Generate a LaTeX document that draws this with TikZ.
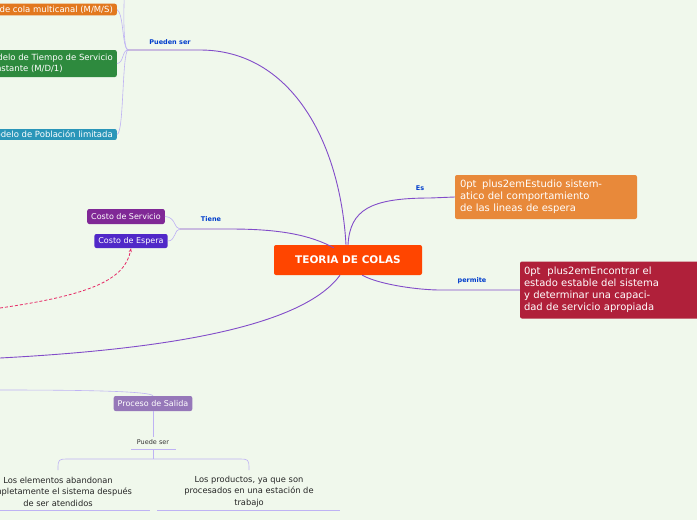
\documentclass[tikz,border=0pt]{standalone}
\usepackage{fontspec}
\setmainfont{DejaVu Sans}
\usetikzlibrary{arrows.meta}
\begin{document}
\begin{tikzpicture}[x=1pt,y=-1pt,
  box/.style={rounded corners=2pt,text=white,font=\fontsize{8.5}{10.5}\selectfont,inner xsep=4pt,inner ysep=2pt,align=center},
  lab/.style={text=blue!70!cyan!80!black,font=\bfseries\fontsize{6.5}{7.5}\selectfont},
  conn/.style={draw=violet!60!blue!70,line width=0.9pt},
  thin/.style={draw=violet!30!blue!30,line width=0.6pt}]
\definecolor{bg}{HTML}{F0F8EC}
\fill[bg] (0,0) rectangle (697,520);
\useasboundingbox (0,0) rectangle (697,520);
\begin{scope}
\clip (0,0) rectangle (697,520);
% central
\node[box,fill={rgb,255:red,255;green,69;blue,0},font=\bfseries\fontsize{10.5}{12}\selectfont,minimum width=148pt,minimum height=30pt] (c) at (348,260) {TEORIA DE COLAS};
\node[box,fill={rgb,255:red,232;green,137;blue,58},font=\hyphenpenalty=10000\fontsize{9.5}{12}\selectfont,minimum width=182pt,minimum height=44pt,text width=172pt] (es) at (546,197) {Estudio sistematico del comportamiento de las lineas de espera};
\node[box,fill={rgb,255:red,176;green,32;blue,58},font=\hyphenpenalty=10000\fontsize{9.5}{12}\selectfont,minimum width=182pt,minimum height=57pt,text width=174pt] (en) at (611,290) {Encontrar el estado estable del sistema y determinar una capacidad de servicio apropiada};
\node[lab] (les) at (420,188) {Es};
\node[lab] (lper) at (472,281) {permite};
\coordinate (e1) at (430,198);
\draw[conn] (c.north) .. controls (350,210) and (370,198) .. (e1) -- (es.west);
\coordinate (p1) at (440,290);
\draw[conn] (c.south east) ++(-60,0) .. controls (380,285) and (420,290) .. (p1) -- (en.west);
% left top
\node[box,fill={rgb,255:red,226;green,120;blue,30},anchor=east] (mms) at (117,9.5) {Modelo de cola multicanal (M/M/S)};
\node[box,fill={rgb,255:red,46;green,138;blue,62},anchor=east,align=left,minimum height=27pt] (md1) at (117,63.5) {Modelo de Tiempo de Servicio\\Constante (M/D/1)};
\node[box,fill={rgb,255:red,42;green,150;blue,185},anchor=east] (mpl) at (117,134.5) {Modelo de Población limitada};
\coordinate (h1) at (128,50);
\coordinate (h2) at (200,50);
\node[lab] (lps) at (170,42) {Pueden ser};
\draw[conn] (c.north) ++(-2,0) .. controls (340,140) and (290,50) .. (h2) -- (h1);
\draw[thin] (h1) .. controls (122,50) and (124,-10) .. (125,-10);
\draw[thin] (h1) .. controls (122,48) and (124,14) .. (mms.east);
\draw[thin] (h1) .. controls (122,50) and (124,63) .. (md1.east);
\draw[thin] (h1) .. controls (122,52) and (124,134) .. (mpl.east);
% costs
\node[box,fill={rgb,255:red,128;green,40;blue,150},font=\fontsize{8}{9}\selectfont,minimum height=15pt] (cs) at (126,216.5) {Costo de Servicio};
\node[box,fill={rgb,255:red,80;green,40;blue,200},font=\fontsize{8}{9}\selectfont,minimum height=14pt] (ce) at (131,241) {Costo de Espera};
\node[lab] (lti) at (211,219) {Tiene};
\coordinate (t1) at (180,229);
\coordinate (t2) at (230,229);
\draw[conn] (c.north west) ++(60,3) .. controls (310,235) and (280,229) .. (t2) -- (t1);
\draw[thin] (t1) .. controls (174,229) and (176,217) .. (cs.east);
\draw[thin] (t1) .. controls (174,229) and (176,241) .. (ce.east);
\coordinate (d1) at (0,308);
\draw[densely dashed,draw={rgb,255:red,230;green,40;blue,100},line width=0.8pt,-{Stealth[length=4pt]}] (d1) .. controls (90,295) and (125,280) .. (ce.south);
\coordinate (b1) at (0,358);
\draw[conn] (c.south) ++(-8,0) .. controls (300,330) and (150,350) .. (b1);
% salida
\node[box,fill={rgb,255:red,150;green,120;blue,185},font=\fontsize{8}{9}\selectfont,minimum height=15pt] (ps) at (153,403.5) {Proceso de Salida};
\coordinate (s0) at (0,390);
\draw[thin] (s0) .. controls (80,390) and (150,391) .. (ps.north);
\node[font=\fontsize{6.5}{7.5}\selectfont,text=black!80] (pds) at (153,442) {Puede ser};
\coordinate (u1) at (131,449);
\coordinate (u2) at (176,449);
\draw[thin] (u1) -- (u2);
\draw[thin] (ps.south) -- (153,437);
\coordinate (k) at (153,459);
\draw[thin] (153,449) -- (k);
\node[font=\fontsize{8.3}{11.5}\selectfont,align=center,text=black!85] (l1) at (58,491.5) {Los elementos abandonan\\completamente el sistema después\\de ser atendidos};
\node[font=\fontsize{8.3}{11.5}\selectfont,align=center,text=black!85] (l2) at (249,491.5) {Los productos, ya que son\\procesados en una estación de\\trabajo};
\draw[thin] (0,510) -- (150,510);
\draw[thin] (157,510) -- (340,510);
\draw[thin] (58,470) -- (58,466) .. controls (58,460) and (60,459) .. (66,459) -- (241,459) .. controls (247,459) and (249,460) .. (249,466) -- (249,470);
\end{scope}
\end{tikzpicture}
\end{document}
